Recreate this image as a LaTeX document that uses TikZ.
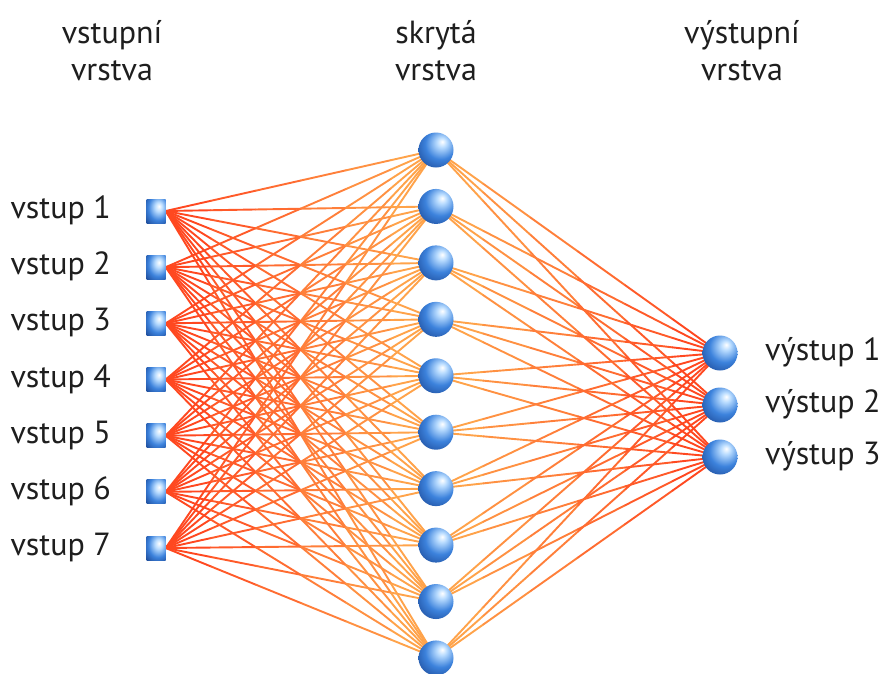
\documentclass[tikz,border=0pt]{standalone}
\usepackage{fontspec}
\setmainfont{PT Sans}
\usetikzlibrary{calc,backgrounds}
\definecolor{hot}{RGB}{255,62,28}
\definecolor{warm}{RGB}{255,172,78}
\definecolor{ballhi}{RGB}{185,220,255}
\definecolor{ballblue}{RGB}{60,130,220}
\definecolor{balldark}{RGB}{15,48,120}
\definecolor{txt}{RGB}{30,30,30}
% glossy blue with the highlight up and to the right
\pgfdeclareradialshading{glassball}{\pgfqpoint{9bp}{12bp}}{%
  color(0bp)=(white); color(7bp)=(ballhi); color(22bp)=(ballblue);
  color(38bp)=(balldark!60!ballblue); color(55bp)=(balldark); color(80bp)=(balldark)}
\pgfdeclareradialshading{glasssquare}{\pgfqpoint{8bp}{10bp}}{%
  color(0bp)=(white); color(10bp)=(ballhi); color(26bp)=(ballblue);
  color(50bp)=(balldark); color(80bp)=(balldark)}
\tikzset{
  inunit/.style={rectangle, minimum width=19pt, minimum height=24pt, inner sep=0pt,
    shading=glasssquare},
  neuron/.style={circle, minimum size=35pt, inner sep=0pt, shading=glassball},
  lbl/.style={text=txt, font=\fontsize{32}{38}\selectfont, inner sep=0pt},
  head/.style={text=txt, font=\fontsize{32}{37}\selectfont, align=center, inner sep=0pt},
  wire/.style={line width=1.9pt, line cap=round}
}
\begin{document}
\begin{tikzpicture}[x=1pt,y=-1pt]
\useasboundingbox (0,0) rectangle (884,673);

% layer captions
\node[head] (hin)  at (112,51) {vstupní\\vrstva};
\node[head] (hhid) at (436,51) {skrytá\\vrstva};
\node[head] (hout) at (742,51) {výstupní\\vrstva};

% input units
\foreach \i in {1,...,7}{
  \node[inunit] (i\i) at (156,{211+56.17*(\i-1)}) {};
  \node[lbl, anchor=mid east] (li\i) at (111,{216+56.17*(\i-1)}) {vstup \i};
}
% hidden units
\foreach \j in {1,...,10}{
  \node[neuron] (h\j) at (436,{150+56.44*(\j-1)}) {};
}
% output units
\foreach \k/\yy in {1/353,2/405,3/457}{
  \node[neuron] (o\k) at (720,\yy) {};
  \node[lbl, anchor=mid west] (lo\k) at (765,\yy+5) {výstup \k};
}

% connections, coloured from red-orange to light orange
\begin{scope}[on background layer]
\fill[white] (0,0) rectangle (884,673);
\foreach \i in {1,...,7}{
  \foreach \j in {1,...,10}{
    \foreach \s in {0,...,5}{
      \pgfmathsetmacro\ta{\s/6}
      \pgfmathsetmacro\tb{(\s+1)/6}
      \pgfmathtruncatemacro\mix{100-(\s+0.5)/6*100}
      \draw[wire, hot!\mix!warm] ($(i\i.east)!\ta!(h\j.center)$) -- ($(i\i.east)!\tb!(h\j.center)$);
    }
  }
}
\foreach \j in {1,...,10}{
  \foreach \k in {1,2,3}{
    \foreach \s in {0,...,5}{
      \pgfmathsetmacro\ta{\s/6}
      \pgfmathsetmacro\tb{(\s+1)/6}
      \pgfmathtruncatemacro\mix{(\s+0.5)/6*100}
      \draw[wire, hot!\mix!warm] ($(h\j.center)!\ta!(o\k.center)$) -- ($(h\j.center)!\tb!(o\k.center)$);
    }
  }
}
\end{scope}
\end{tikzpicture}
\end{document}
